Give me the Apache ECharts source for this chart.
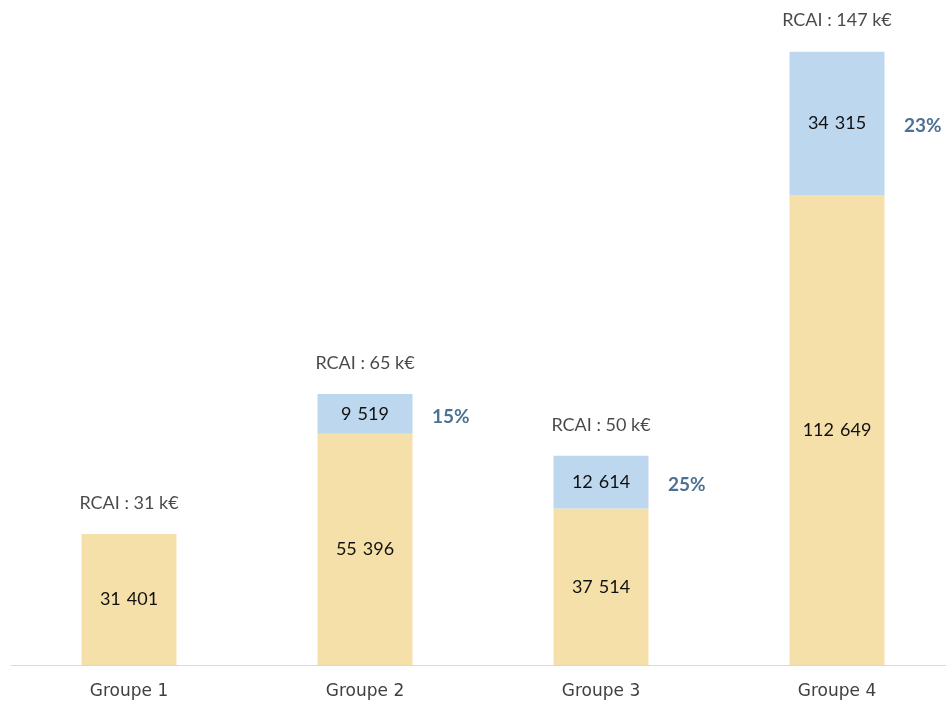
<!DOCTYPE html>
<html>
<head>
<meta charset="utf-8">
<script src="https://cdn.jsdelivr.net/npm/echarts@6/dist/echarts.min.js"></script>
<style>
  html, body { margin: 0; padding: 0; background: #fff; overflow: hidden; }
  #chart { width: 955px; height: 702px; }
</style>
</head>
<body>
<div id="chart"></div>
<script>
// données
const categories = ["Groupe 1", "Groupe 2", "Groupe 3", "Groupe 4"];
const baseValues = [31401, 55396, 37514, 112649];
const rcaiExtra = ["-", 9519, 12614, 34315];
const rcaiTotals = [31, 65, 50, 147]; // k€
const pctLabels = ["", "15%", "25%", "23%"];

const fontFamily = "Lato, 'Open Sans', sans-serif";

// format "31 401" (espace un peu plus large, comme dans Excel)
function fmt(v) {
  return String(v).replace(/\B(?=(\d{3})+(?!\d))/g, "\u2004");
}

const stackTops = baseValues.map((v, i) => v + (rcaiExtra[i] === "-" ? 0 : rcaiExtra[i]));
const pctPoints = baseValues.map((v, i) =>
  rcaiExtra[i] === "-" ? "-" : v + rcaiExtra[i] / 2
);

const chart = echarts.init(document.getElementById("chart"));
chart.setOption({
  animation: false,
  grid: { left: 11, right: 0, top: 39, bottom: 37 },
  xAxis: {
    type: "category",
    data: categories,
    axisLine: { lineStyle: { color: "#d9d9d9", width: 1 } },
    axisTick: { show: false },
    axisLabel: { color: "#404040", fontSize: 17, fontFamily: "'DejaVu Sans', sans-serif", margin: 18 },
  },
  yAxis: {
    type: "value",
    min: 0,
    max: 150000,
    show: false,
    splitLine: { show: false },
  },
  series: [
    {
      name: "base",
      type: "bar",
      stack: "total",
      barWidth: 95,
      data: baseValues,
      itemStyle: { color: "#F6E0A9" },
      label: {
        show: true,
        position: "inside",
        color: "#111111",
        fontSize: 18,
        fontFamily: fontFamily,
        formatter: (p) => fmt(p.value),
      },
    },
    {
      name: "rcai",
      type: "bar",
      stack: "total",
      barWidth: 95,
      data: rcaiExtra,
      itemStyle: { color: "#BDD7EE" },
      label: {
        show: true,
        position: "inside",
        color: "#111111",
        fontSize: 18,
        fontFamily: fontFamily,
        formatter: (p) => fmt(p.value),
      },
    },
    {
      // pourcentages à droite du segment bleu
      name: "pct",
      type: "scatter",
      symbolSize: 0,
      data: pctPoints,
      label: {
        show: true,
        position: "right",
        distance: 67,
        offset: [0, 3],
        color: "#1F4E79",
        fontSize: 19,
        fontWeight: "bold",
        fontFamily: fontFamily,
        formatter: (p) => pctLabels[p.dataIndex],
      },
    },
    {
      // étiquettes RCAI au-dessus des barres
      name: "total",
      type: "scatter",
      symbolSize: 0,
      data: stackTops,
      label: {
        show: true,
        position: "top",
        distance: 22,
        color: "#1a1a1a",
        fontSize: 18,
        fontFamily: fontFamily,
        formatter: (p) => "RCAI : " + rcaiTotals[p.dataIndex] + " k€",
      },
    },
  ],
});
</script>
</body>
</html>
